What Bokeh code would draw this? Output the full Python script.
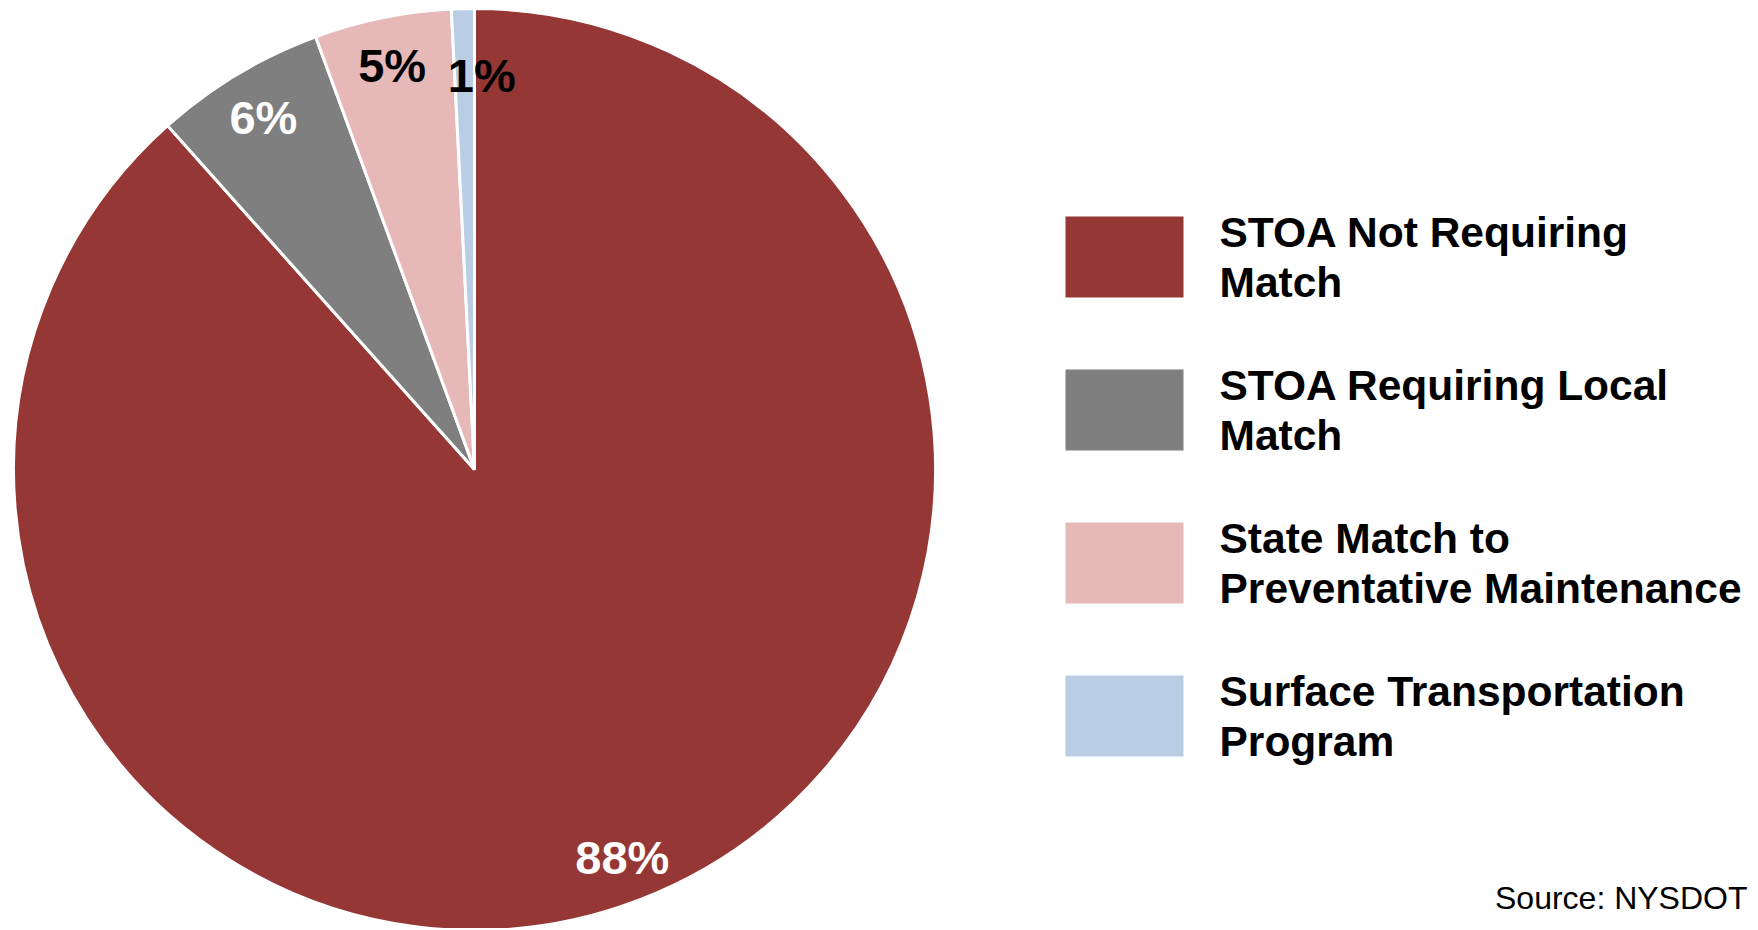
import numpy as np
from bokeh.plotting import figure
from bokeh.models import Range1d, ColumnDataSource
from bokeh.core.properties import value
from bokeh.embed import file_html
from bokeh.resources import INLINE

# ---- data ----
categories = ["STOA Not Requiring Match", "STOA Requiring Local Match",
              "State Match to Preventative Maintenance", "Surface Transportation Program"]
legend_lines = [["STOA Not Requiring", "Match"],
                ["STOA Requiring Local", "Match"],
                ["State Match to", "Preventative Maintenance"],
                ["Surface Transportation", "Program"]]
shares = [88.4, 6.0, 4.8, 0.8]
labels = ["88%", "6%", "5%", "1%"]
colors = ["#953735", "#7F7F7F", "#E6B9B8", "#B9CDE5"]
label_colors = ["white", "white", "black", "black"]
label_nudge_deg = [0.0, 0.0, 0.0, 2.5]
label_radius = [0.90, 0.89, 0.895, 0.855]
source_note = "Source: NYSDOT"

W, H = 1752, 928
FONT = "Liberation Sans"

p = figure(width=W, height=H, output_backend="svg", toolbar_location=None,
           x_range=Range1d(0, W), y_range=Range1d(930 - H, 930),
           min_border=0, outline_line_color=None)
p.axis.visible = False
p.grid.visible = False
p.background_fill_color = "white"
p.border_fill_color = "white"

# page coordinate helper: y_up = 930 - page_y
def yu(page_y):
    return 930 - page_y

cx, cy, R = 474, yu(469), 461

frac = np.array(shares) / np.sum(shares)
cum = np.cumsum(frac)
prev = np.concatenate([[0], cum[:-1]])
start = np.pi / 2 - 2 * np.pi * prev
end = np.pi / 2 - 2 * np.pi * cum

src = ColumnDataSource(dict(start=start, end=end, color=colors))
p.wedge(x=cx, y=cy, radius=R, start_angle="start", end_angle="end",
        direction="clock", fill_color="color", line_color="white",
        line_width=3, source=src)

mid = np.pi / 2 - 2 * np.pi * (prev + frac / 2) - np.radians(label_nudge_deg)
lr = np.array(label_radius) * R
lsrc = ColumnDataSource(dict(x=cx + lr * np.cos(mid), y=cy + lr * np.sin(mid),
                             t=labels, c=label_colors))
p.text(x="x", y="y", text="t", text_color="c", source=lsrc,
       text_font=value(FONT), text_font_style="bold", text_font_size="47px",
       text_align="center", text_baseline="middle")

# legend
sw_x0, sw_x1 = 1065, 1183
top0, step, sw_h = 216, 153, 81
for i, (lines, col) in enumerate(zip(legend_lines, colors)):
    top = top0 + i * step
    p.quad(left=sw_x0, right=sw_x1, top=yu(top), bottom=yu(top + sw_h),
           fill_color=col, line_color=None)
    for j, ln in enumerate(lines):
        p.text(x=[1219], y=[yu(top + 16 + j * 50)], text=[ln],
               text_font=value(FONT), text_font_style="bold",
               text_font_size="42.5px", text_color="black",
               text_align="left", text_baseline="middle")

p.text(x=[1747], y=[yu(897)], text=[source_note], text_font=value(FONT),
       text_font_size="32px", text_color="black", text_align="right",
       text_baseline="middle")

open("out.html", "w").write(file_html(p, INLINE))
